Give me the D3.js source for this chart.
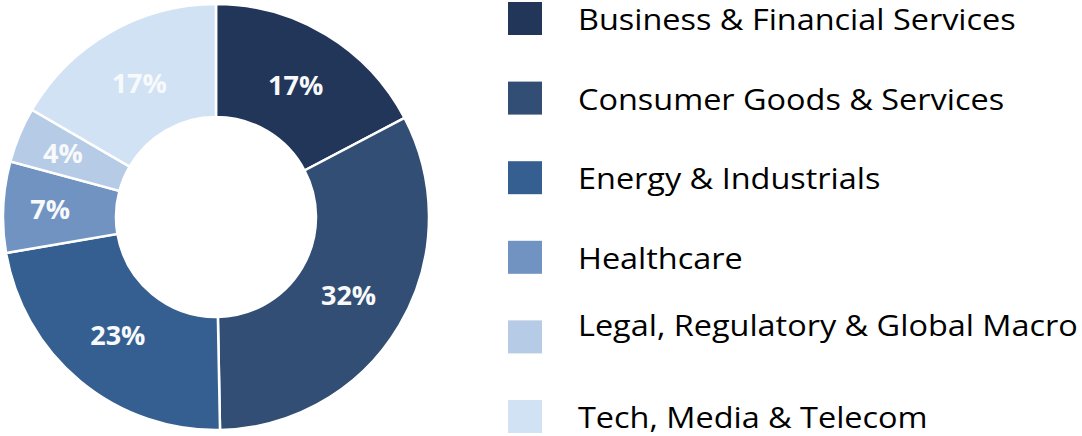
<!DOCTYPE html>
<html>
<head>
<meta charset="utf-8">
<script src="https://cdn.jsdelivr.net/npm/d3@7"></script>
<style>
  body { margin: 0; background: #fff; }
  svg { display: block; }
</style>
</head>
<body>
<script>
// sector shares (%), clockwise from 12 o'clock
var sectors = ["Business & Financial Services", "Consumer Goods & Services", "Energy & Industrials",
               "Healthcare", "Legal, Regulatory & Global Macro", "Tech, Media & Telecom"];
var shares = [17.3, 32.4, 22.6, 6.9, 4.2, 16.6];
var colors = ["#213659", "#324e74", "#365f91", "#7093c2", "#b6cbe5", "#d1e2f4"];

var width = 1082, height = 436;

var svg = d3.select("body")
            .append("svg")
            .attr("width", width)
            .attr("height", height);

var data = sectors.map(function(s, i) { return { name: s, value: shares[i], color: colors[i] }; });

var pie = d3.pie()
            .sort(null)
            .value(function(d) { return d.value; });

var arc = d3.arc()
            .innerRadius(100)
            .outerRadius(213);

// small slices get their label a bit further out
var labelArc = function(d) {
  var r = d.data.value < 10 ? 166 : 154;
  return d3.arc().innerRadius(r).outerRadius(r).centroid(d);
};

var donut = svg.append("g")
               .attr("transform", "translate(216,217)");

var arcs = pie(data);

donut.selectAll("path")
     .data(arcs)
     .enter()
     .append("path")
     .attr("d", arc)
     .attr("fill", function(d) { return d.data.color; })
     .attr("stroke", "#fff")
     .attr("stroke-width", 2.5);

donut.selectAll("text")
     .data(arcs)
     .enter()
     .append("text")
     .attr("transform", function(d) { return "translate(" + labelArc(d) + ")"; })
     .attr("text-anchor", "middle")
     .attr("dy", "0.36em")
     .attr("fill", "#f7f9fb")
     .style("font-family", "'Open Sans', sans-serif")
     .style("font-weight", "bold")
     .style("font-size", "27px")
     .text(function(d) { return Math.round(d.data.value) + "%"; });

// legend
var legendY = d3.scalePoint()
                .domain(sectors)
                .range([2, 400]);

var legend = svg.append("g");

var rows = legend.selectAll("g")
                 .data(data)
                 .enter()
                 .append("g")
                 .attr("transform", function(d) { return "translate(508," + legendY(d.name) + ")"; });

rows.append("rect")
    .attr("width", 34)
    .attr("height", 33)
    .attr("fill", function(d) { return d.color; });

var labels = rows.append("text")
    .attr("y", function(d, i) { return i === 4 ? 16 : 28; }) // the Legal line sits higher in the original
    .attr("fill", "#000")
    .style("font-family", "'Open Sans', sans-serif")
    .style("font-size", "29px")
    .text(function(d) { return d.name; });

// original font is wider for its height: stretch so the longest label spans ~500px
var longest = d3.max(labels.nodes(), function(n) { return n.getComputedTextLength(); });
var sx = 500 / longest;
labels.attr("transform", "translate(70,0) scale(" + sx + ",1)");
</script>
</body>
</html>
